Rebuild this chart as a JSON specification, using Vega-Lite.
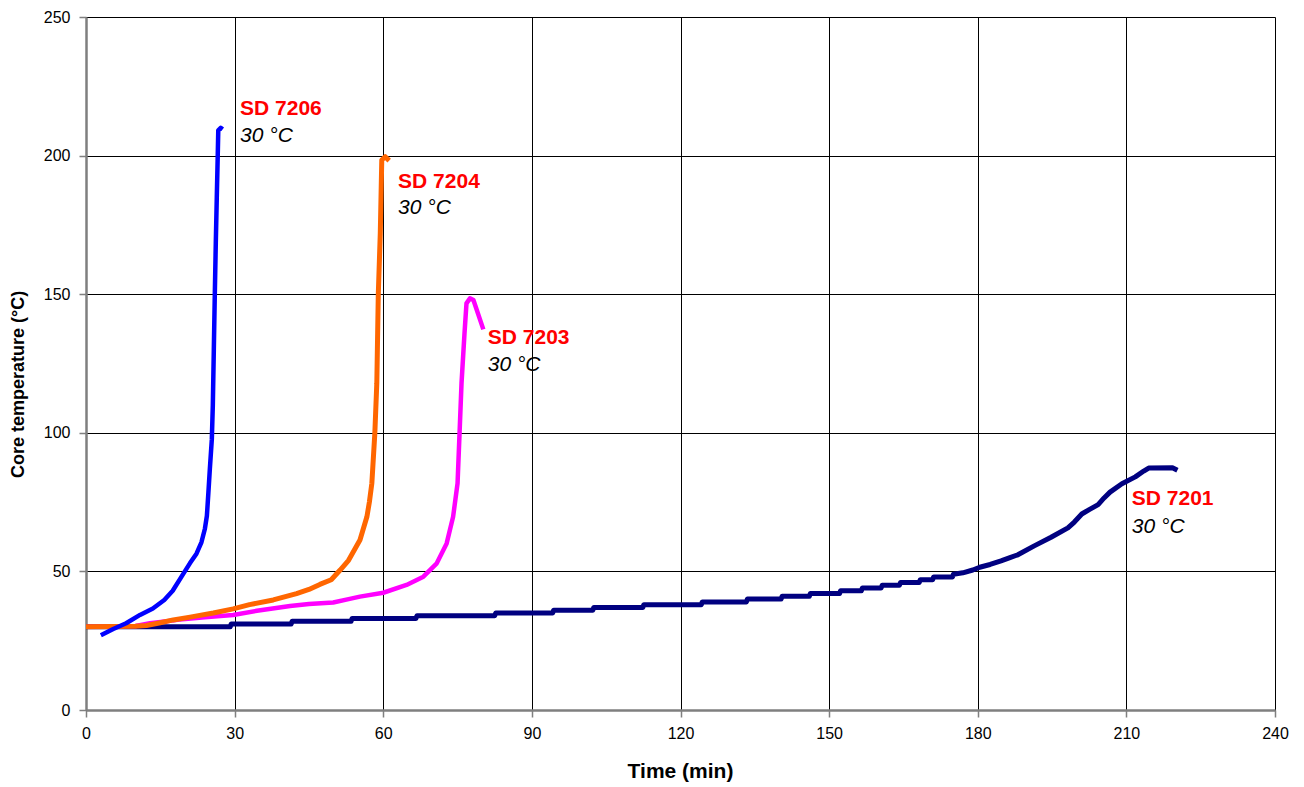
{
  "$schema": "https://vega.github.io/schema/vega-lite/v6.json",
  "width": 1189,
  "height": 693,
  "autosize": "none",
  "padding": {"left": 86, "top": 17, "right": 29, "bottom": 77},
  "background": "white",
  "config": {
    "view": {"stroke": null},
    "font": "Liberation Sans",
    "axis": {
      "labelFont": "Liberation Sans",
      "titleFont": "Liberation Sans",
      "labelColor": "#000",
      "titleColor": "#000",
      "titleFontWeight": "bold",
      "labelFlush": false,
      "grid": true,
      "gridColor": "#000",
      "gridWidth": 1,
      "domainColor": "#7f7f7f",
      "domainWidth": 2.5,
      "tickColor": "#7f7f7f",
      "tickWidth": 1.5,
      "tickSize": 7
    }
  },
  "datasets": {
    "lines": [
      {"s": "SD 7201", "t": 0, "T": 30}, {"s": "SD 7201", "t": 29.1, "T": 30}, {"s": "SD 7201", "t": 29.3, "T": 31},
      {"s": "SD 7201", "t": 41.4, "T": 31}, {"s": "SD 7201", "t": 41.6, "T": 32}, {"s": "SD 7201", "t": 53.5, "T": 32},
      {"s": "SD 7201", "t": 53.7, "T": 33}, {"s": "SD 7201", "t": 66.6, "T": 33}, {"s": "SD 7201", "t": 66.8, "T": 34},
      {"s": "SD 7201", "t": 82.5, "T": 34}, {"s": "SD 7201", "t": 82.7, "T": 35}, {"s": "SD 7201", "t": 94.2, "T": 35},
      {"s": "SD 7201", "t": 94.4, "T": 36}, {"s": "SD 7201", "t": 102.3, "T": 36}, {"s": "SD 7201", "t": 102.5, "T": 37},
      {"s": "SD 7201", "t": 112.4, "T": 37}, {"s": "SD 7201", "t": 112.6, "T": 38}, {"s": "SD 7201", "t": 124.2, "T": 38},
      {"s": "SD 7201", "t": 124.4, "T": 39}, {"s": "SD 7201", "t": 133.3, "T": 39}, {"s": "SD 7201", "t": 133.5, "T": 40},
      {"s": "SD 7201", "t": 140.3, "T": 40}, {"s": "SD 7201", "t": 140.5, "T": 41}, {"s": "SD 7201", "t": 146, "T": 41},
      {"s": "SD 7201", "t": 146.2, "T": 42}, {"s": "SD 7201", "t": 152.1, "T": 42}, {"s": "SD 7201", "t": 152.3, "T": 43},
      {"s": "SD 7201", "t": 156.5, "T": 43}, {"s": "SD 7201", "t": 156.7, "T": 44}, {"s": "SD 7201", "t": 160.5, "T": 44},
      {"s": "SD 7201", "t": 160.7, "T": 45}, {"s": "SD 7201", "t": 164.2, "T": 45}, {"s": "SD 7201", "t": 164.4, "T": 46},
      {"s": "SD 7201", "t": 168.2, "T": 46}, {"s": "SD 7201", "t": 168.4, "T": 47}, {"s": "SD 7201", "t": 170.9, "T": 47},
      {"s": "SD 7201", "t": 171.1, "T": 48}, {"s": "SD 7201", "t": 174.9, "T": 48}, {"s": "SD 7201", "t": 175.1, "T": 49},
      {"s": "SD 7201", "t": 177, "T": 49.5}, {"s": "SD 7201", "t": 179, "T": 50.5}, {"s": "SD 7201", "t": 180.4, "T": 51.5},
      {"s": "SD 7201", "t": 182.5, "T": 52.5}, {"s": "SD 7201", "t": 184.7, "T": 53.8}, {"s": "SD 7201", "t": 186.5, "T": 55},
      {"s": "SD 7201", "t": 188.1, "T": 56}, {"s": "SD 7201", "t": 191.4, "T": 59.2}, {"s": "SD 7201", "t": 194.8, "T": 62.3},
      {"s": "SD 7201", "t": 198.2, "T": 65.7}, {"s": "SD 7201", "t": 199.5, "T": 67.8}, {"s": "SD 7201", "t": 201, "T": 70.7},
      {"s": "SD 7201", "t": 202.5, "T": 72.3}, {"s": "SD 7201", "t": 204.3, "T": 74.1}, {"s": "SD 7201", "t": 205.5, "T": 76.5},
      {"s": "SD 7201", "t": 206.7, "T": 78.6}, {"s": "SD 7201", "t": 209.1, "T": 81.6}, {"s": "SD 7201", "t": 211.8, "T": 84.1},
      {"s": "SD 7201", "t": 213.5, "T": 86.2}, {"s": "SD 7201", "t": 214.5, "T": 87.3}, {"s": "SD 7201", "t": 219.3, "T": 87.4},
      {"s": "SD 7201", "t": 220.3, "T": 86.5},

      {"s": "SD 7203", "t": 0, "T": 30}, {"s": "SD 7203", "t": 10, "T": 30.3}, {"s": "SD 7203", "t": 12.9, "T": 31.3},
      {"s": "SD 7203", "t": 18.9, "T": 32.6}, {"s": "SD 7203", "t": 24, "T": 33.5}, {"s": "SD 7203", "t": 29.7, "T": 34.3},
      {"s": "SD 7203", "t": 34.5, "T": 35.8}, {"s": "SD 7203", "t": 41.2, "T": 37.5}, {"s": "SD 7203", "t": 45, "T": 38.2},
      {"s": "SD 7203", "t": 49.9, "T": 38.8}, {"s": "SD 7203", "t": 53, "T": 40}, {"s": "SD 7203", "t": 55.3, "T": 40.9},
      {"s": "SD 7203", "t": 60, "T": 42.3}, {"s": "SD 7203", "t": 64.7, "T": 45.1}, {"s": "SD 7203", "t": 68.1, "T": 48.1},
      {"s": "SD 7203", "t": 70.8, "T": 52.9}, {"s": "SD 7203", "t": 72.8, "T": 60.1}, {"s": "SD 7203", "t": 74.1, "T": 69.7},
      {"s": "SD 7203", "t": 75, "T": 81.8}, {"s": "SD 7203", "t": 75.4, "T": 99.8}, {"s": "SD 7203", "t": 75.8, "T": 117.9},
      {"s": "SD 7203", "t": 76.4, "T": 135.9}, {"s": "SD 7203", "t": 76.8, "T": 146.7}, {"s": "SD 7203", "t": 77.5, "T": 148.5},
      {"s": "SD 7203", "t": 78.2, "T": 147.9}, {"s": "SD 7203", "t": 80.2, "T": 137.3},

      {"s": "SD 7204", "t": 0, "T": 30}, {"s": "SD 7204", "t": 10, "T": 30.2}, {"s": "SD 7204", "t": 12.2, "T": 30.5},
      {"s": "SD 7204", "t": 15, "T": 31.5}, {"s": "SD 7204", "t": 17.6, "T": 32.5}, {"s": "SD 7204", "t": 21, "T": 33.5},
      {"s": "SD 7204", "t": 25.7, "T": 35}, {"s": "SD 7204", "t": 29.7, "T": 36.5}, {"s": "SD 7204", "t": 33, "T": 38},
      {"s": "SD 7204", "t": 37.8, "T": 39.7}, {"s": "SD 7204", "t": 42.5, "T": 42}, {"s": "SD 7204", "t": 45, "T": 43.5},
      {"s": "SD 7204", "t": 47.2, "T": 45.3}, {"s": "SD 7204", "t": 49.5, "T": 47}, {"s": "SD 7204", "t": 51.3, "T": 50.5},
      {"s": "SD 7204", "t": 53, "T": 54}, {"s": "SD 7204", "t": 55.3, "T": 61.3}, {"s": "SD 7204", "t": 56.7, "T": 69.7},
      {"s": "SD 7204", "t": 57.2, "T": 75}, {"s": "SD 7204", "t": 57.7, "T": 81.8}, {"s": "SD 7204", "t": 58.3, "T": 99.8},
      {"s": "SD 7204", "t": 58.7, "T": 117.9}, {"s": "SD 7204", "t": 59, "T": 150}, {"s": "SD 7204", "t": 59.4, "T": 172},
      {"s": "SD 7204", "t": 59.7, "T": 198.4}, {"s": "SD 7204", "t": 60.4, "T": 199.6}, {"s": "SD 7204", "t": 61.2, "T": 198.2},

      {"s": "SD 7206", "t": 3, "T": 27}, {"s": "SD 7206", "t": 5.5, "T": 29.2}, {"s": "SD 7206", "t": 8.1, "T": 31.3},
      {"s": "SD 7206", "t": 10.9, "T": 34.3}, {"s": "SD 7206", "t": 13.5, "T": 36.6}, {"s": "SD 7206", "t": 15.8, "T": 39.7},
      {"s": "SD 7206", "t": 17.5, "T": 43}, {"s": "SD 7206", "t": 19.6, "T": 49}, {"s": "SD 7206", "t": 21, "T": 53},
      {"s": "SD 7206", "t": 22.3, "T": 56.4}, {"s": "SD 7206", "t": 23.3, "T": 60.5}, {"s": "SD 7206", "t": 24, "T": 65.4},
      {"s": "SD 7206", "t": 24.4, "T": 70}, {"s": "SD 7206", "t": 24.7, "T": 78.3}, {"s": "SD 7206", "t": 25, "T": 87},
      {"s": "SD 7206", "t": 25.4, "T": 97.7}, {"s": "SD 7206", "t": 25.6, "T": 110}, {"s": "SD 7206", "t": 25.8, "T": 129.9},
      {"s": "SD 7206", "t": 26, "T": 150}, {"s": "SD 7206", "t": 26.2, "T": 168.5}, {"s": "SD 7206", "t": 26.4, "T": 185},
      {"s": "SD 7206", "t": 26.6, "T": 200.7}, {"s": "SD 7206", "t": 26.7, "T": 209.1}, {"s": "SD 7206", "t": 27.2, "T": 210},
      {"s": "SD 7206", "t": 27.6, "T": 209.5}
    ],
    "labels": [
      {"name": "SD 7206", "sub": "30 °C", "t": 31.1, "T": 216.9, "T2": 207.2},
      {"name": "SD 7204", "sub": "30 °C", "t": 63.0, "T": 190.6, "T2": 181.0},
      {"name": "SD 7203", "sub": "30 °C", "t": 81.1, "T": 134.1, "T2": 124.5},
      {"name": "SD 7201", "sub": "30 °C", "t": 211.1, "T": 76.2, "T2": 66.1}
    ]
  },
  "encoding": {
    "x": {
      "field": "t", "type": "quantitative",
      "scale": {"domain": [0, 240], "nice": false},
      "axis": {"values": [0, 30, 60, 90, 120, 150, 180, 210, 240], "title": "Time (min)", "labelFontSize": 16, "titleFontSize": 21, "labelPadding": 8, "titleX": 594, "titleY": 61, "titleBaseline": "middle", "titleAnchor": "middle"}
    },
    "y": {
      "field": "T", "type": "quantitative",
      "scale": {"domain": [0, 250], "nice": false},
      "axis": {"values": [0, 50, 100, 150, 200, 250], "title": "Core temperature (°C)", "labelFontSize": 16, "titleFontSize": 18, "labelPadding": 9, "titleX": -68, "titleY": 367, "titleBaseline": "middle", "titleAngle": -90}
    }
  },
  "layer": [
    {"data": {"name": "lines"}, "transform": [{"filter": "datum.s === 'SD 7201'"}], "mark": {"type": "line", "color": "#000080", "strokeWidth": 5, "strokeJoin": "round"}},
    {"data": {"name": "lines"}, "transform": [{"filter": "datum.s === 'SD 7203'"}], "mark": {"type": "line", "color": "#FF00FF", "strokeWidth": 4.5, "strokeJoin": "round"}},
    {"data": {"name": "lines"}, "transform": [{"filter": "datum.s === 'SD 7204'"}], "mark": {"type": "line", "color": "#FF6600", "strokeWidth": 5, "strokeJoin": "round"}},
    {"data": {"name": "lines"}, "transform": [{"filter": "datum.s === 'SD 7206'"}], "mark": {"type": "line", "color": "#0000FF", "strokeWidth": 4.5, "strokeJoin": "round"}},
    {"data": {"name": "labels"}, "mark": {"type": "text", "align": "left", "baseline": "middle", "font": "Liberation Sans", "fontSize": 21, "fontWeight": "bold", "color": "#FF0000"}, "encoding": {"text": {"field": "name"}}},
    {"data": {"name": "labels"}, "mark": {"type": "text", "align": "left", "baseline": "middle", "font": "Liberation Sans", "fontSize": 21, "fontStyle": "italic", "color": "#000"}, "encoding": {"y": {"field": "T2", "type": "quantitative"}, "text": {"field": "sub"}}}
  ]
}
